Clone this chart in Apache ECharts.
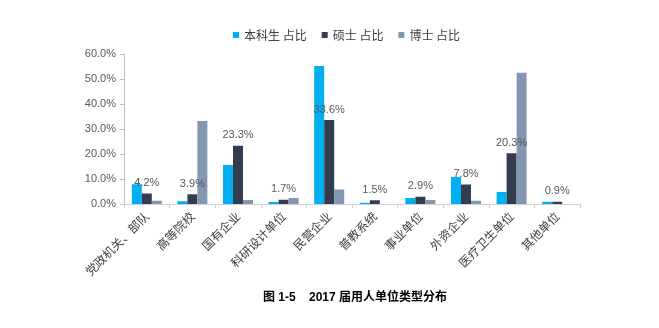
<!DOCTYPE html>
<html>
<head>
<meta charset="utf-8">
<script src="https://cdn.jsdelivr.net/npm/echarts@6/dist/echarts.min.js"></script>
<style>html,body{margin:0;padding:0;background:#fff;}#c{width:659px;height:328px;}</style>
</head>
<body>
<div id="c"></div>
<script>
var categories = ['党政机关、部队','高等院校','国有企业','科研设计单位','民营企业','普教系统','事业单位','外资企业','医疗卫生单位','其他单位'];
var seriesNames = ['本科生 占比','硕士 占比','博士 占比'];
var bachelor = [7.9, 1.1, 15.6, 0.8, 55.2, 0.5, 2.4, 10.8, 4.8, 0.9];
var master = [4.2, 3.9, 23.3, 1.7, 33.6, 1.5, 2.9, 7.8, 20.3, 0.9];
var doctor = [1.3, 33.2, 1.6, 2.4, 5.8, 0, 1.6, 1.3, 52.5, 0];
var yTicks = [0, 10, 20, 30, 40, 50, 60];
var titleText = '图 1-5    2017 届用人单位类型分布';

var colors = ['#00b0f0', '#323e4f', '#8497b0'];
var chart = echarts.init(document.getElementById('c'), null, {renderer: 'canvas'});
var cjk = '"Liberation Sans", Arial, "Noto Sans CJK SC", sans-serif';
function mk(name, data, idx, showLabel) {
  return {
    name: name, type: 'bar', data: data, barWidth: 10, barGap: '0%',
    itemStyle: {color: colors[idx]},
    label: {show: showLabel, position: 'top', distance: 5, color: '#595959', fontSize: 11, fontFamily: cjk,
      formatter: function(p){ return p.value.toFixed(1) + '%'; }},
    animation: false
  };
}
chart.setOption({
  animation: false,
  title: {text: titleText, left: 258, top: 287,
    textStyle: {fontSize: 12, fontWeight: 'bold', color: '#000', fontFamily: '"Liberation Sans", "Noto Sans CJK SC", sans-serif'}},
  legend: {data: seriesNames, left: 228, top: 24, itemWidth: 6, itemHeight: 6, itemGap: 15,
    icon: 'rect', textStyle: {fontSize: 12, color: '#404040', fontFamily: '"Noto Sans CJK SC", sans-serif'}},
  grid: {left: 124, right: 79, top: 54, bottom: 124, containLabel: false},
  xAxis: {type: 'category', data: categories,
    axisLine: {lineStyle: {color: '#d0d0d0'}},
    axisTick: {show: true, alignWithLabel: false, length: 4, lineStyle: {color: '#d0d0d0'}},
    axisLabel: {rotate: 45, interval: 0, fontSize: 12, color: '#404040', margin: 10,
      fontFamily: '"Noto Sans CJK SC", sans-serif'}},
  yAxis: {type: 'value', min: yTicks[0], max: yTicks[yTicks.length-1], interval: 10,
    axisLine: {show: true, lineStyle: {color: '#bfbfbf'}},
    axisTick: {show: true, length: 4, lineStyle: {color: '#bfbfbf'}},
    splitLine: {show: false},
    axisLabel: {fontSize: 11, color: '#595959', margin: 8, fontFamily: '"Liberation Sans", Arial, sans-serif',
      formatter: function(v){ return v.toFixed(1) + '%'; }}},
  series: [mk(seriesNames[0], bachelor, 0, false), mk(seriesNames[1], master, 1, true), mk(seriesNames[2], doctor, 2, false)]
});
</script>
</body>
</html>
